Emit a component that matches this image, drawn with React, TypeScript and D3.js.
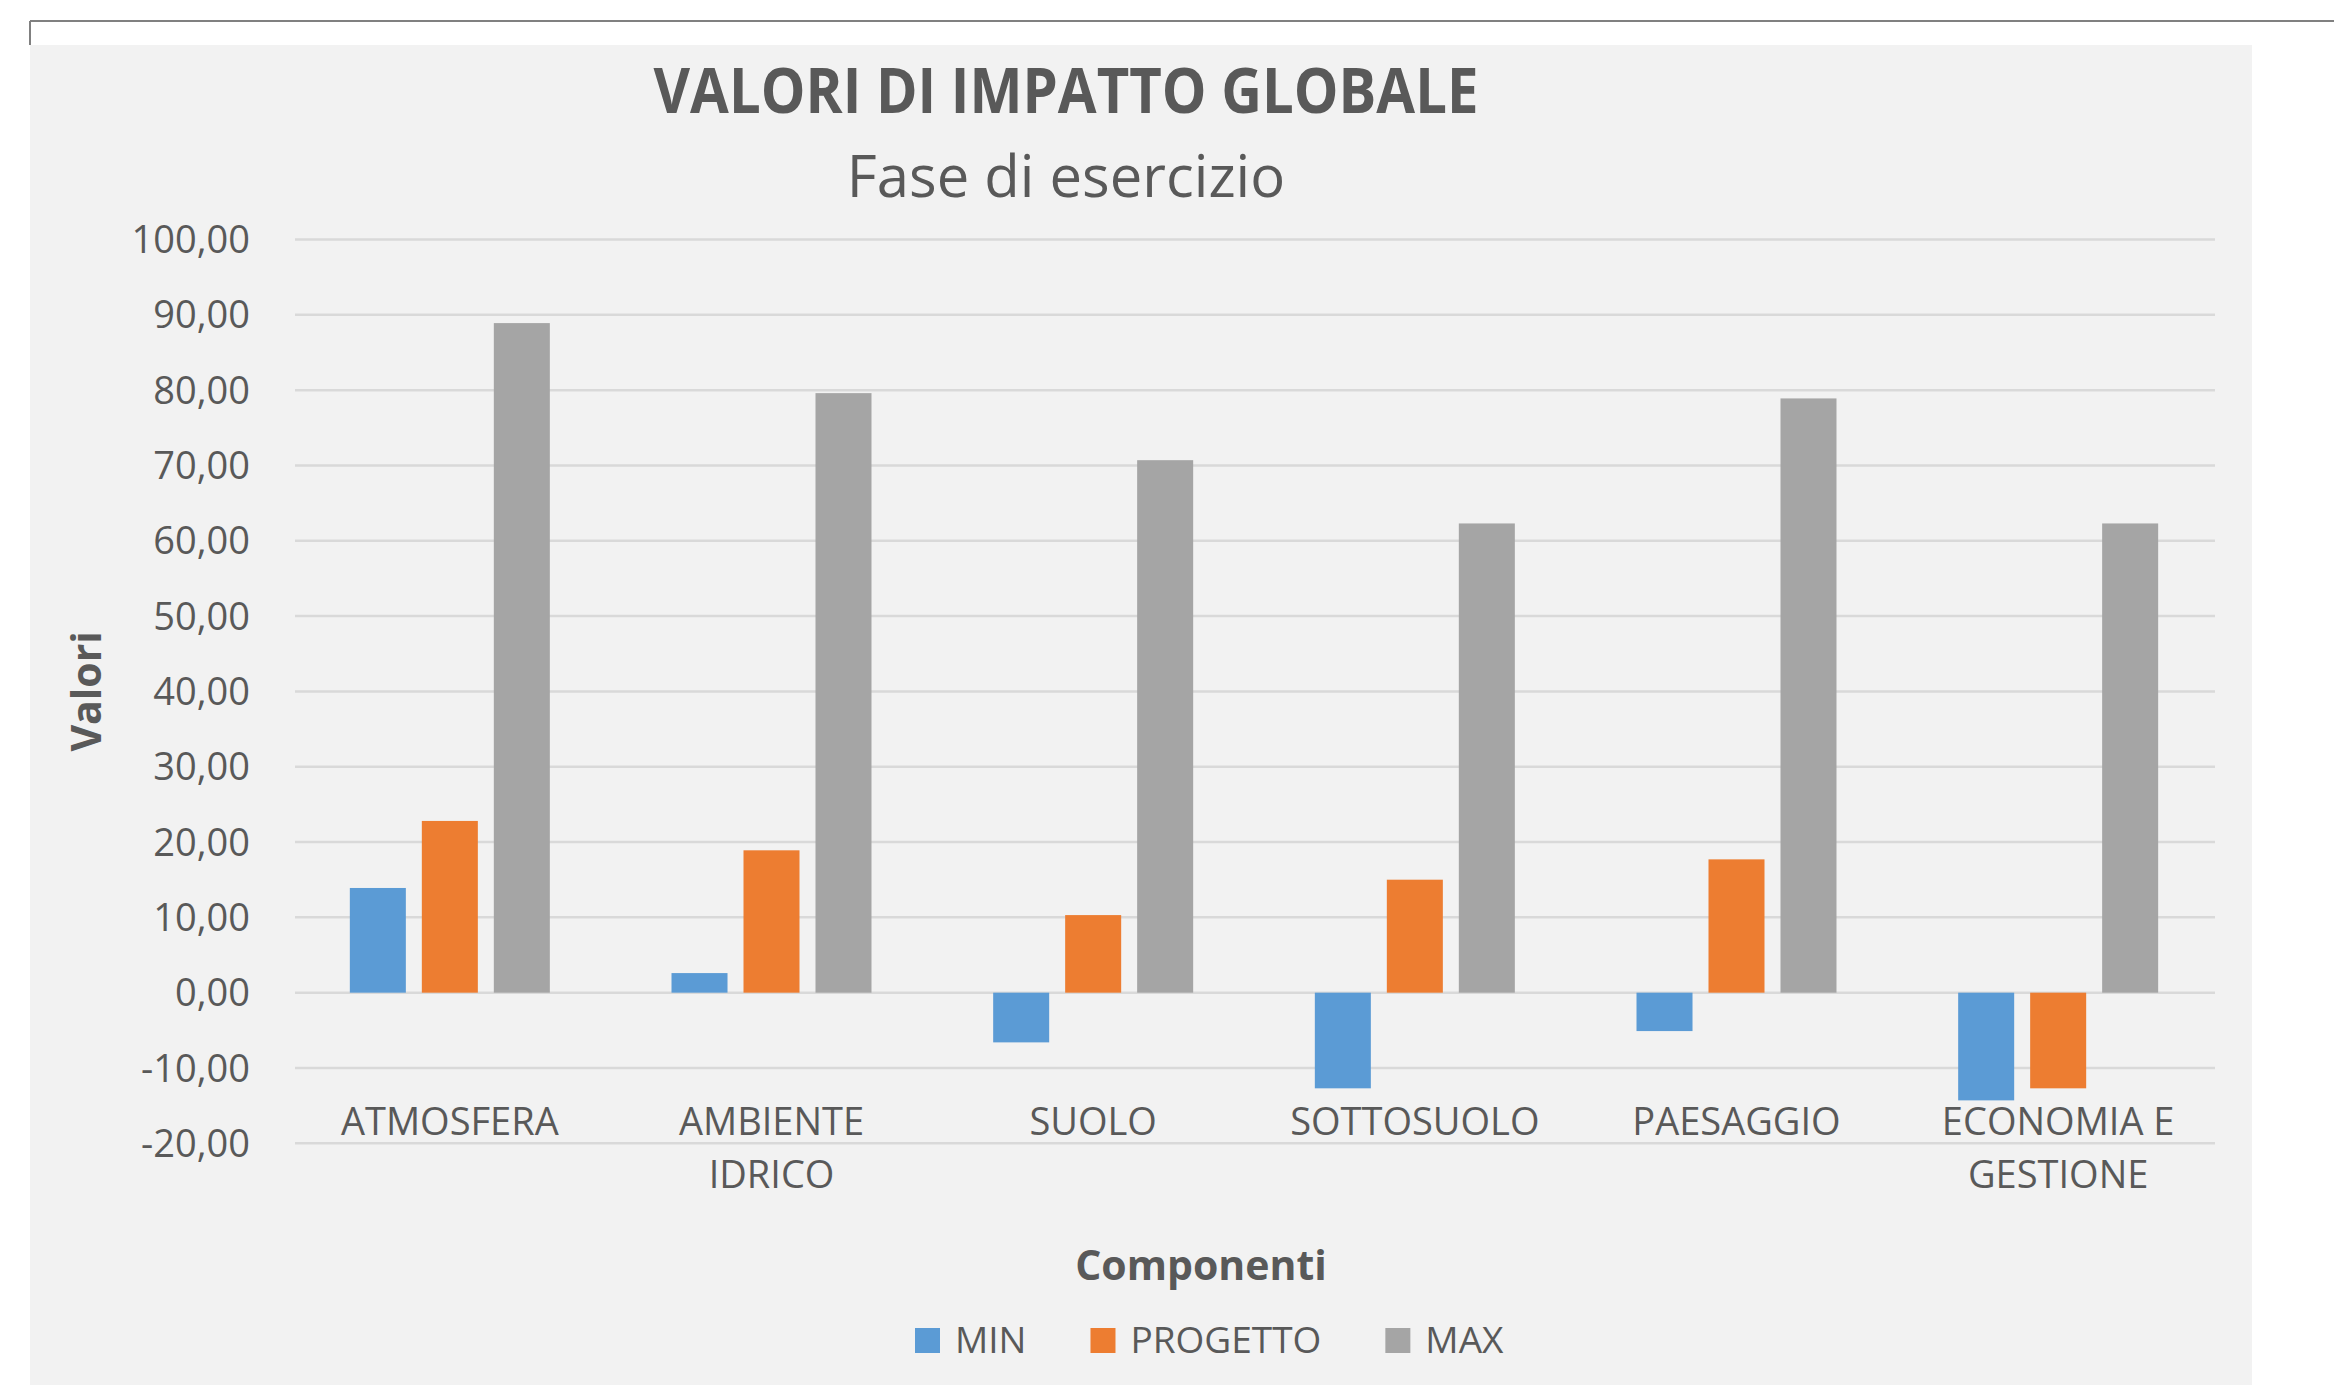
import React, { useEffect, useRef } from "react";
import * as d3 from "d3";

const categories = ["ATMOSFERA", "AMBIENTE IDRICO", "SUOLO", "SOTTOSUOLO", "PAESAGGIO", "ECONOMIA E GESTIONE"];
const categoryLines = [["ATMOSFERA"], ["AMBIENTE", "IDRICO"], ["SUOLO"], ["SOTTOSUOLO"], ["PAESAGGIO"], ["ECONOMIA E", "GESTIONE"]];
const seriesNames = ["MIN", "PROGETTO", "MAX"];
const minValues = [13.9, 2.6, -6.6, -12.7, -5.1, -14.3];
const progettoValues = [22.8, 18.9, 10.3, 15.0, 17.7, -12.7];
const maxValues = [88.9, 79.6, 70.7, 62.3, 78.9, 62.3];
const seriesColors = ["#5B9BD5", "#ED7D31", "#A5A5A5"];
const yTickValues = [-20, -10, 0, 10, 20, 30, 40, 50, 60, 70, 80, 90, 100];
const titleText = "VALORI DI IMPATTO GLOBALE";
const subtitleText = "Fase di esercizio";
const yAxisTitle = "Valori";
const xAxisTitle = "Componenti";

export default function App() {
  const ref = useRef<SVGSVGElement>(null);

  useEffect(() => {
    const W = 2334, H = 1385;
    const font = "'Open Sans', 'Noto Sans', sans-serif";
    const textColor = "#595959";
    const svg = d3.select(ref.current);
    svg.selectAll("*").remove();

    svg.append("rect").attr("x", 0).attr("y", 0).attr("width", W).attr("height", H).attr("fill", "#ffffff");
    svg.append("rect").attr("x", 30).attr("y", 45).attr("width", 2222).attr("height", H - 45).attr("fill", "#F2F2F2");
    svg.append("line").attr("x1", 30).attr("x2", W).attr("y1", 21).attr("y2", 21).attr("stroke", "#808080").attr("stroke-width", 2);
    svg.append("line").attr("x1", 30).attr("x2", 30).attr("y1", 21).attr("y2", 45).attr("stroke", "#808080").attr("stroke-width", 2);

    // Titles
    svg.append("text").text(titleText)
      .attr("x", 1066).attr("y", 113).attr("text-anchor", "middle")
      .attr("font-family", font).attr("font-weight", "bold").attr("font-size", 62)
      .attr("textLength", 825).attr("lengthAdjust", "spacingAndGlyphs")
      .attr("fill", textColor);
    svg.append("text").text(subtitleText)
      .attr("x", 1066).attr("y", 197).attr("text-anchor", "middle")
      .attr("font-family", font).attr("font-size", 58)
      .attr("fill", textColor);

    const left = 289, right = 2219;
    const y = d3.scaleLinear().domain([-20, 100]).range([1143.3, 239.5]);
    const x0 = d3.scaleBand<string>().domain(categories).range([left, right]).padding(0);
    const groupW = 200;
    const x1 = d3.scaleBand<string>().domain(seriesNames).range([0, groupW]).paddingInner(0.222).paddingOuter(0);
    const offset = (x0.bandwidth() - groupW) / 2;

    // gridlines
    const g = svg.append("g");
    g.selectAll("line.grid").data(yTickValues).enter().append("line")
      .attr("x1", left + 6).attr("x2", right - 4)
      .attr("y1", d => y(d)).attr("y2", d => y(d))
      .attr("stroke", "#D9D9D9").attr("stroke-width", 2.5);

    // tick labels
    const fmt = d3.format(".2f");
    g.selectAll("text.tick").data(yTickValues).enter().append("text")
      .text(d => fmt(d).replace("\u2212", "-").replace(".", ","))
      .attr("x", 250).attr("y", d => y(d)).attr("dy", "0.36em")
      .attr("text-anchor", "end")
      .attr("font-family", font).attr("font-size", 38).attr("fill", textColor);

    // bars
    const seriesValues = [minValues, progettoValues, maxValues];
    seriesNames.forEach((s, si) => {
      g.selectAll(`rect.s${si}`).data(seriesValues[si]).enter().append("rect")
        .attr("x", (_, i) => (x0(categories[i]) as number) + offset + (x1(s) as number))
        .attr("width", x1.bandwidth())
        .attr("y", d => Math.min(y(d), y(0)))
        .attr("height", d => Math.abs(y(d) - y(0)))
        .attr("fill", seriesColors[si]);
    });

    // category labels
    categories.forEach((c, i) => {
      const cx = (x0(c) as number) + x0.bandwidth() / 2;
      categoryLines[i].forEach((line, li) => {
        g.append("text").text(line)
          .attr("x", cx).attr("y", 1135 + li * 53)
          .attr("text-anchor", "middle")
          .attr("font-family", font).attr("font-size", 38).attr("fill", textColor);
      });
    });

    // axis titles
    svg.append("text").text(yAxisTitle)
      .attr("transform", `translate(101, ${(y(100) + y(-20)) / 2}) rotate(-90)`)
      .attr("text-anchor", "middle")
      .attr("font-family", font).attr("font-weight", "bold").attr("font-size", 41)
      .attr("fill", textColor);
    svg.append("text").text(xAxisTitle)
      .attr("x", 1201).attr("y", 1280).attr("text-anchor", "middle")
      .attr("font-family", font).attr("font-weight", "bold").attr("font-size", 41)
      .attr("fill", textColor);

    // legend
    let lx = 915;
    const ly = 1353;
    seriesNames.forEach((s, si) => {
      svg.append("rect").attr("x", lx).attr("y", ly - 25).attr("width", 25).attr("height", 25).attr("fill", seriesColors[si]);
      const t = svg.append("text").text(s)
        .attr("x", lx + 40).attr("y", ly)
        .attr("font-family", font).attr("font-size", 37).attr("fill", textColor);
      const w = (t.node() as SVGTextElement).getComputedTextLength();
      lx = lx + 40 + w + 64;
    });
  }, []);

  return (
    <div style={{ position: "absolute", left: 0, top: 0 }}>
      <svg ref={ref} width={2334} height={1385} style={{ display: "block" }} />
    </div>
  );
}
